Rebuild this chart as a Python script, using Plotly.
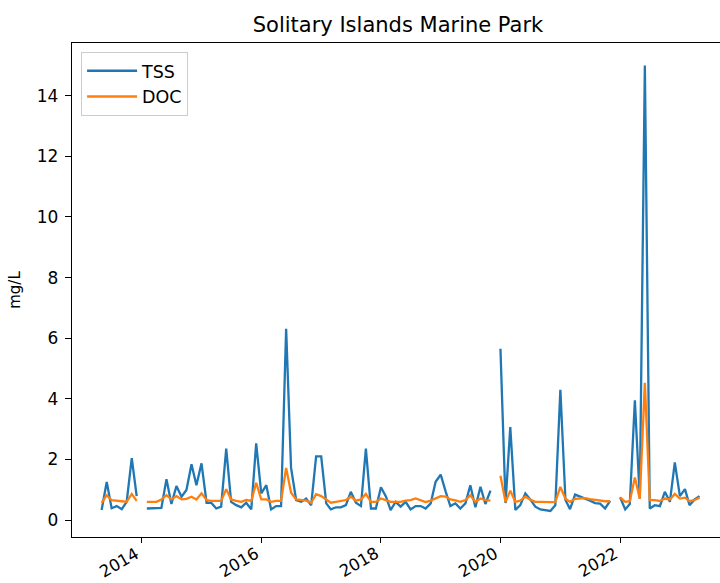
import plotly.graph_objects as go

# Monthly sampling dates (first of month), May 2013 - May 2023
start_year, start_month = 2013, 5
n_months = 121
months = []
for i in range(n_months):
    y = start_year + (start_month - 1 + i) // 12
    m = (start_month - 1 + i) % 12 + 1
    months.append(f"{y}-{m:02d}-01")

# Total suspended solids (mg/L); None marks months without a sample
tss = [
    0.33, 1.26, 0.39, 0.46, 0.36, 0.60, 2.04, 0.79,                           # 2013 May-Dec
    None, 0.38, 0.38, 0.38, 0.40, 1.35, 0.53, 1.12, 0.77, 0.99, 1.84, 1.15,   # 2014
    1.87, 0.57, 0.57, 0.38, 0.44, 2.36, 0.60, 0.49, 0.42, 0.57, 0.35, 2.53,   # 2015
    0.88, 1.15, 0.35, 0.46, 0.46, 6.31, 1.72, 0.66, 0.60, 0.71, 0.49, 2.10,   # 2016
    2.10, 0.55, 0.35, 0.42, 0.42, 0.49, 0.93, 0.57, 0.46, 2.36, 0.38, 0.38,   # 2017
    1.08, 0.77, 0.33, 0.60, 0.44, 0.60, 0.35, 0.46, 0.46, 0.38, 0.55, 1.26,   # 2018
    1.50, 0.93, 0.46, 0.55, 0.38, 0.55, 1.15, 0.42, 1.10, 0.53, 0.97, None,   # 2019
    5.65, 0.56, 3.07, 0.33, 0.49, 0.88, 0.68, 0.44, 0.35, 0.33, 0.30, 0.49,   # 2020
    4.30, 0.66, 0.36, 0.84, 0.78, 0.70, 0.64, 0.56, 0.54, 0.38, 0.63, None,   # 2021
    0.75, 0.35, 0.53, 3.95, 0.71, 15.0, 0.38, 0.49, 0.46, 0.93, 0.60, 1.90,   # 2022
    0.79, 1.02, 0.49, 0.68, 0.79,                                             # 2023 Jan-May
]

# Dissolved organic carbon (mg/L)
doc = [
    0.57, 0.82, 0.66, 0.63, 0.62, 0.60, 0.86, 0.63,
    None, 0.60, 0.59, 0.60, 0.68, 0.82, 0.68, 0.79, 0.68, 0.70, 0.77, 0.68,
    0.88, 0.66, 0.63, 0.63, 0.63, 1.02, 0.68, 0.63, 0.60, 0.66, 0.63, 1.23,
    0.68, 0.68, 0.60, 0.63, 0.63, 1.72, 0.90, 0.68, 0.66, 0.64, 0.57, 0.85,
    0.79, 0.68, 0.57, 0.60, 0.63, 0.66, 0.77, 0.64, 0.68, 0.86, 0.60, 0.60,
    0.71, 0.66, 0.60, 0.60, 0.60, 0.64, 0.66, 0.71, 0.64, 0.59, 0.64, 0.71,
    0.79, 0.77, 0.68, 0.65, 0.60, 0.66, 0.82, 0.60, 0.71, 0.66, 0.64, None,
    1.46, 0.59, 0.97, 0.60, 0.64, 0.77, 0.68, 0.60, 0.60, 0.59, 0.59, 0.60,
    1.09, 0.70, 0.60, 0.70, 0.72, 0.72, 0.69, 0.66, 0.64, 0.62, 0.62, None,
    0.75, 0.60, 0.62, 1.40, 0.70, 4.53, 0.66, 0.66, 0.63, 0.71, 0.68, 0.86,
    0.71, 0.74, 0.62, 0.66, 0.74,
]

year_ticks = ["2014-01-01", "2016-01-01", "2018-01-01", "2020-01-01", "2022-01-01"]
year_labels = ["2014", "2016", "2018", "2020", "2022"]
y_ticks = [0, 2, 4, 6, 8, 10, 12, 14]

FONT = "DejaVu Sans"
BLUE = "#1f77b4"
ORANGE = "#ff7f0e"
PLOT_H = 583 - 43 - 46

fig = go.Figure()
fig.add_trace(go.Scatter(x=months, y=tss, mode="lines", name="TSS",
                         line=dict(color=BLUE, width=2.3)))
fig.add_trace(go.Scatter(x=months, y=doc, mode="lines", name="DOC",
                         line=dict(color=ORANGE, width=2.3)))

# Rotated year labels, right-aligned under their tick marks
for tv, tl in zip(year_ticks, year_labels):
    fig.add_annotation(x=tv, xref="x", y=-5 / PLOT_H, yref="paper",
                       text=tl, showarrow=False, textangle=-30,
                       xanchor="right", yanchor="top", xshift=2, borderpad=0,
                       font=dict(family=FONT, size=16.5, color="black"))

fig.update_layout(
    width=720, height=583,
    margin=dict(l=72, r=0, t=43, b=46),
    paper_bgcolor="white", plot_bgcolor="white",
    font=dict(family=FONT, size=14.5, color="black"),
    title=dict(text="Solitary Islands Marine Park", xref="container", x=398 / 720,
               xanchor="center", yref="container", y=1 - 25 / 583, yanchor="middle",
               font=dict(family=FONT, size=21, color="black")),
    showlegend=True,
    legend=dict(x=0.014, y=0.982, xanchor="left", yanchor="top",
                bgcolor="rgba(255,255,255,0.8)", bordercolor="#cccccc", borderwidth=1,
                font=dict(family=FONT, size=17.5, color="black"),
                itemwidth=50, tracegroupgap=0),
)

fig.update_xaxes(
    type="date", range=["2012-11-01", "2023-09-03"], automargin=False,
    tickvals=year_ticks, showticklabels=False,
    showgrid=False, zeroline=False,
    showline=True, linecolor="black", linewidth=1.3, mirror=True,
    ticks="outside", ticklen=5, tickwidth=1.3, tickcolor="black",
)
fig.update_yaxes(
    range=[-0.56, 15.74], tickvals=y_ticks, automargin=False,
    ticklabelstandoff=3,
    showgrid=False, zeroline=False,
    showline=True, linecolor="black", linewidth=1.3, mirror=False,
    ticks="outside", ticklen=6, tickwidth=1.3, tickcolor="black",
    tickfont=dict(family=FONT, size=17, color="black"),
    title=dict(text="mg/L", font=dict(family=FONT, size=15, color="black"), standoff=12),
)

fig.write_html("out.html")
